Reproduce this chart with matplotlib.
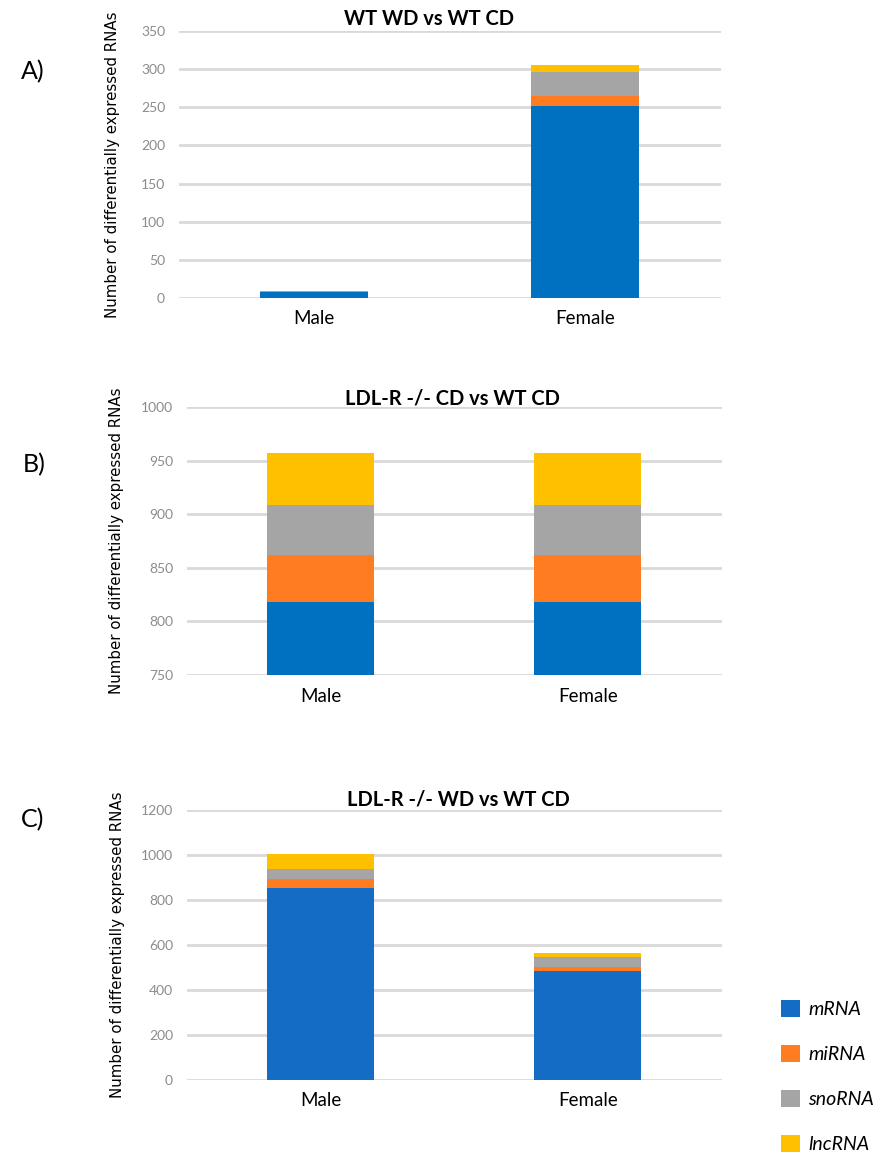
import matplotlib
matplotlib.use("Agg")
import matplotlib.pyplot as plt
import numpy as np

categories = ["Male", "Female"]
rna_types = ["mRNA", "miRNA", "snoRNA", "lncRNA"]

# Panel A: WT WD vs WT CD
a_mrna = [8, 252]
a_mirna = [0, 13]
a_snorna = [1, 31]
a_lncrna = [0, 9]

# Panel B: LDL-R -/- CD vs WT CD (axis starts at 750)
b_mrna = [818, 818]
b_mirna = [44, 44]
b_snorna = [47, 47]
b_lncrna = [48, 48]

# Panel C: LDL-R -/- WD vs WT CD
c_mrna = [855, 486]
c_mirna = [38, 16]
c_snorna = [45, 43]
c_lncrna = [66, 18]

titles = ["WT WD vs WT CD", "LDL-R -/- CD vs WT CD", "LDL-R -/- WD vs WT CD"]
panel_letters = ["A)", "B)", "C)"]
yticks_a = [0, 50, 100, 150, 200, 250, 300, 350]
yticks_b = [750, 800, 850, 900, 950, 1000]
yticks_c = [0, 200, 400, 600, 800, 1000, 1200]

colors_ab = ["#0070C0", "#FF7C20", "#A5A5A5", "#FFC000"]
colors_c = ["#156CC4", "#FF7C20", "#A5A5A5", "#FFC000"]

W, H = 879, 1159
fig = plt.figure(figsize=(W / 100, H / 100), dpi=100)

tick_font = ["Lato", "DejaVu Sans"]

def axes_px(left, right, top, bottom):
    return fig.add_axes([left / W, 1 - bottom / H, (right - left) / W, (bottom - top) / H])

def draw(ax, series, colors, yticks, ymin, centers_px, left, right, label_right):
    x = np.arange(len(categories))
    bottom = np.zeros(len(categories)) + ymin
    handles = []
    for vals, col, name in zip(series, colors, rna_types):
        vals = np.array(vals, dtype=float)
        h = vals - ymin if (ymin > 0 and name == "mRNA") else vals
        b = ax.bar(x, h, bottom=bottom, width=0.40, color=col, label=name, zorder=3)
        handles.append(b)
        bottom = bottom + h
    ax.set_ylim(yticks[0], yticks[-1])
    ax.set_yticks(yticks)
    ax.set_yticklabels([str(t) for t in yticks], family=tick_font, fontsize=10, color="#8C8C8C")
    scale = centers_px[1] - centers_px[0]
    ax.set_xlim((left - centers_px[0]) / scale, (right - centers_px[0]) / scale)
    ax.set_xticks(x)
    ax.set_xticklabels(categories, fontsize=13.5, family=tick_font, color="black")
    ax.tick_params(axis="both", length=0)
    ax.tick_params(axis="x", pad=9)
    ax.tick_params(axis="y", pad=10)
    ax.grid(axis="y", color="#D9D9D9", linewidth=2, zorder=0)
    for s in ax.spines.values():
        s.set_visible(False)
    ax.set_ylabel("Number of differentially expressed RNAs", fontsize=10.8, family="DejaVu Sans")
    ax.yaxis.set_label_coords((label_right - left) / (right - left), 0.5)
    return handles

axA = axes_px(179, 721, 31, 298)
draw(axA, [a_mrna, a_mirna, a_snorna, a_lncrna], colors_ab, yticks_a, 0, (314, 585), 179, 721, 120)
axB = axes_px(187, 722, 407, 675)
draw(axB, [b_mrna, b_mirna, b_snorna, b_lncrna], colors_ab, yticks_b, 750, (320.5, 588), 187, 722, 124)
axC = axes_px(187, 722, 810, 1080)
hC = draw(axC, [c_mrna, c_mirna, c_snorna, c_lncrna], colors_c, yticks_c, 0, (320.5, 588), 187, 722, 125)

title_pos = [(429, 19), (452, 399), (458, 799)]
for t, (px, py) in zip(titles, title_pos):
    fig.text(px / W, 1 - py / H, t, ha="center", va="center", fontsize=14.5,
             fontweight="bold", family=tick_font)

letter_pos = [(33, 72), (34, 465), (33, 820)]
for t, (px, py) in zip(panel_letters, letter_pos):
    fig.text(px / W, 1 - py / H, t, ha="center", va="center", fontsize=18, family=tick_font)

fig.legend(hC, rna_types, loc="upper left", bbox_to_anchor=(781 / W, 1 - 1000 / H),
           frameon=False, borderpad=0, borderaxespad=0, handlelength=0.98, handleheight=0.98,
           handletextpad=0.42, labelspacing=1.38,
           prop={"style": "italic", "size": 14, "family": tick_font})

fig.savefig("out.png", dpi=100)
